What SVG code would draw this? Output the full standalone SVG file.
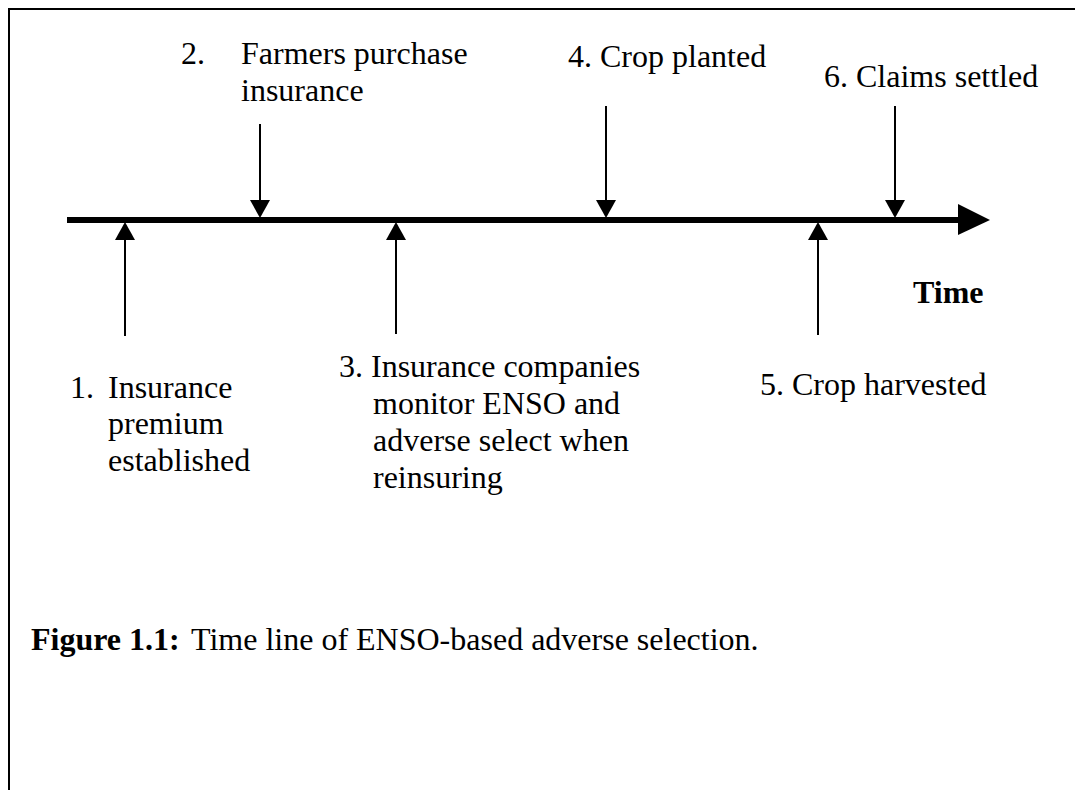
<svg xmlns="http://www.w3.org/2000/svg" width="1075" height="790" viewBox="0 0 1075 790">
<style>
text{font-family:"Liberation Serif","Times New Roman",serif;font-size:32px;fill:#000}
.b{font-weight:bold}
.shaft{stroke:#000;stroke-width:2;fill:none}
.head{fill:#000}
</style>
<rect width="1075" height="790" fill="#fff"/>
<path d="M9,790 V9 H1075" fill="none" stroke="#000" stroke-width="2"/>
<g id="connectors">
<line x1="67" y1="220" x2="962" y2="220" stroke="#000" stroke-width="6"/>
<polygon class="head" points="958,204 990,220 958,235"/>
<line class="shaft" x1="125" y1="336" x2="125" y2="238"/>
<polygon class="head" points="115,240 125,222 135,240"/>
<line class="shaft" x1="396" y1="334" x2="396" y2="238"/>
<polygon class="head" points="386,240 396,222 406,240"/>
<line class="shaft" x1="818" y1="335" x2="818" y2="238"/>
<polygon class="head" points="808,240 818,222 828,240"/>
<line class="shaft" x1="260" y1="124" x2="260" y2="202"/>
<polygon class="head" points="250,200 260,218 270,200"/>
<line class="shaft" x1="606" y1="106" x2="606" y2="202"/>
<polygon class="head" points="596,200 606,218 616,200"/>
<line class="shaft" x1="895" y1="106" x2="895" y2="202"/>
<polygon class="head" points="885,200 895,218 905,200"/>
</g>
<g id="n1">
<text x="70" y="398">1.</text>
<text x="108" y="398">Insurance</text>
<text x="108" y="434">premium</text>
<text x="108" y="471">established</text>
</g>
<g id="n2">
<text x="181" y="64">2.</text>
<text x="241" y="64">Farmers purchase</text>
<text x="241" y="101">insurance</text>
</g>
<g id="n3">
<text x="339" y="377">3. Insurance companies</text>
<text x="373" y="414">monitor ENSO and</text>
<text x="373" y="451">adverse select when</text>
<text x="373" y="488">reinsuring</text>
</g>
<g id="n4"><text x="568" y="67">4. Crop planted</text></g>
<g id="n5"><text x="760" y="395">5. Crop harvested</text></g>
<g id="n6"><text x="824" y="87">6. Claims settled</text></g>
<g id="time"><text class="b" x="913" y="303">Time</text></g>
<g id="caption">
<text class="b" x="31" y="650">Figure 1.1:</text>
<text x="191" y="650">Time line of ENSO-based adverse selection.</text>
</g>
</svg>
